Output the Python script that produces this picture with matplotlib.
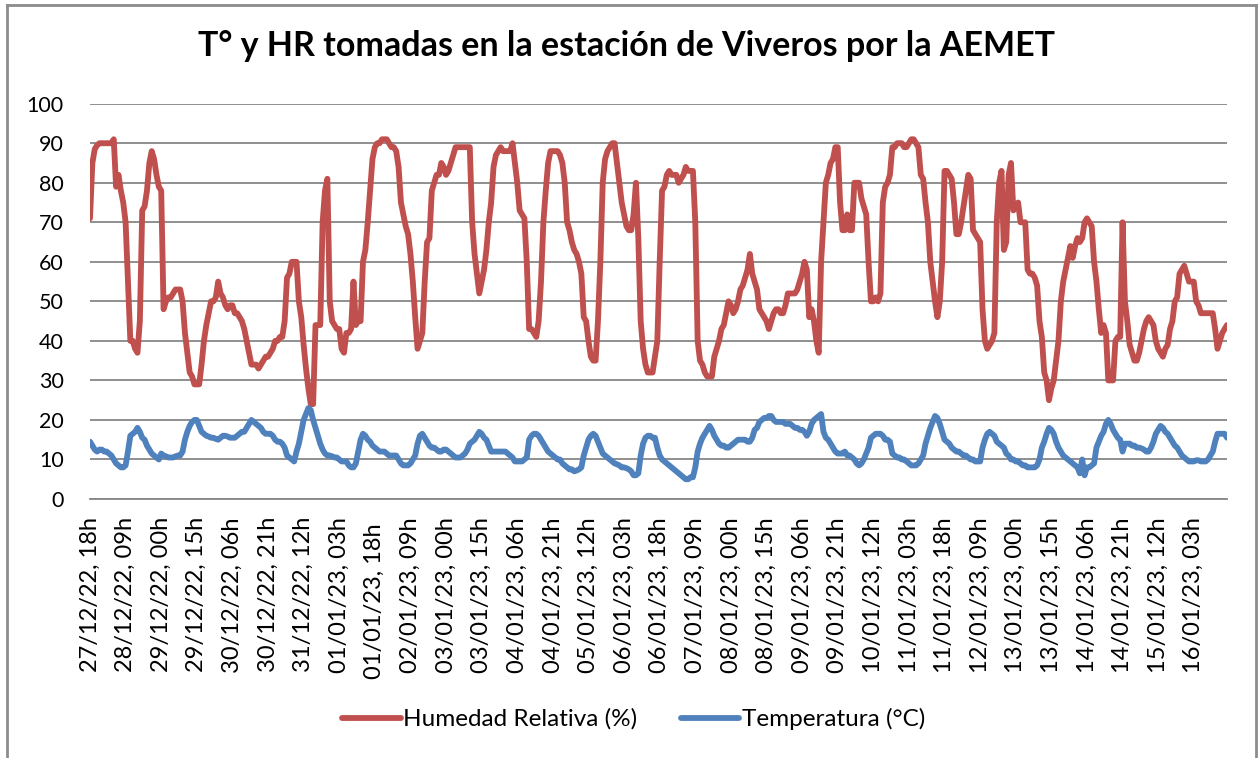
import matplotlib
matplotlib.use("Agg")
import matplotlib.pyplot as plt
from matplotlib.lines import Line2D

# ---------------- data (hourly, 27/12/22 18h -> 16/01/23 17h) ----------------
humedad = [
    71, 85, 88.5, 89.5, 90, 90, 90, 90, 90, 90, 91, 79, 82, 78, 75,
    70, 55, 40, 40, 38, 37, 45, 73, 74, 78, 85, 88, 86, 82, 79,
    78, 48, 50, 51, 51, 52, 53, 53, 53, 50, 42, 37, 32, 31, 29,
    29, 29, 34, 40, 44, 47, 50, 50, 51, 55, 52, 51, 49, 48, 49,
    49, 47, 47, 46, 45, 43, 40, 37, 34, 34, 34, 33, 34, 35, 36,
    36, 37, 38, 40, 40, 41, 41, 45, 56, 57, 60, 60, 60, 50, 46,
    39, 33, 28, 24, 24, 44, 44, 44, 70, 78, 81, 50, 45, 44, 43,
    43, 38, 37, 42, 42, 43, 55, 44, 45, 45, 60, 63, 70, 78, 86,
    89, 90, 90, 91, 91, 91, 90, 89, 89, 88, 84, 75, 72, 69, 67,
    62, 55, 46, 38, 40, 42, 55, 65, 66, 78, 80, 82, 82, 85, 84,
    82, 83, 85, 87, 89, 89, 89, 89, 89, 89, 89, 70, 62, 57, 52,
    55, 58, 63, 70, 75, 84, 87, 88, 89, 88, 88, 88, 88, 90, 85,
    80, 73, 72, 71, 60, 43, 43, 42, 41, 45, 55, 70, 78, 85, 88,
    88, 88, 88, 87, 85, 80, 70, 68, 65, 63, 62, 60, 57, 46, 45,
    40, 36, 35, 35, 45, 60, 80, 86, 88, 89, 90, 90, 85, 80, 75,
    72, 69, 68, 68, 72, 80, 66, 45, 38, 34, 32, 32, 32, 36, 40,
    60, 78, 79, 82, 83, 82, 82, 82, 80, 81, 82, 84, 83, 83, 83,
    70, 40, 35, 34, 32, 31, 31, 31, 36, 38, 40, 43, 44, 47, 50,
    49, 47, 48, 50, 53, 54, 56, 58, 62, 57, 55, 53, 48, 47, 46,
    45, 43, 45, 47, 48, 48, 47, 47, 49, 52, 52, 52, 52, 53, 55,
    57, 60, 58, 46, 48, 45, 40, 37, 60, 70, 80, 82, 85, 86, 89,
    89, 75, 68, 68, 72, 68, 68, 80, 80, 80, 76, 74, 72, 60, 50,
    50, 51, 50, 52, 75, 79, 80, 82, 89, 89, 90, 90, 90, 89, 89,
    90, 91, 91, 90, 89, 82, 81, 75, 70, 60, 55, 50, 46, 50, 60,
    83, 83, 82, 81, 75, 67, 67, 70, 74, 78, 82, 81, 68, 67, 66,
    65, 48, 40, 38, 39, 40, 42, 70, 80, 83, 63, 65, 82, 85, 73,
    74, 75, 70, 70, 70, 58, 57, 57, 56, 54, 45, 41, 32, 30, 25,
    28, 30, 35, 40, 50, 55, 58, 61, 64, 61, 64, 66, 65, 66, 70,
    71, 70, 69, 60, 55, 48, 42, 44, 42, 30, 30, 30, 40, 41, 41,
    70, 50, 45, 39, 37, 35, 35, 37, 40, 43, 45, 46, 45, 44, 40,
    38, 37, 36, 38, 39, 43, 45, 50, 51, 57, 58, 59, 57, 55, 55,
    55, 50, 49, 47, 47, 47, 47, 47, 47, 43, 38, 40, 42, 43, 44,
]

temperatura = [
    14.5, 13.5, 12.5, 12, 12.5, 12.5, 12, 12, 11.5, 11, 10, 9, 8.5, 8, 8,
    8.5, 12, 16, 16.5, 17, 18, 17, 15.5, 15, 13.5, 12.5, 11.5, 11, 10.5, 10,
    11.5, 11, 10.8, 10.5, 10.5, 10.5, 10.8, 11, 11, 12, 15, 17, 18.5, 19.5, 20,
    20, 18.5, 17, 16.5, 16, 15.8, 15.5, 15.5, 15.2, 15, 15.5, 16, 16, 15.8, 15.5,
    15.5, 15.5, 16, 16.5, 17, 17, 18, 19, 20, 19.5, 19, 18.5, 18, 17, 16.5,
    16.5, 16.5, 16, 15, 14.5, 14.5, 14, 13, 11, 10.5, 10, 9.5, 12, 14, 17,
    20, 21.5, 23, 22.5, 20, 18, 16, 14, 12.5, 11.5, 11, 11, 10.8, 10.5, 10.5,
    10, 9.5, 9.5, 9.5, 8.5, 8, 8, 9, 12, 15, 16.5, 16, 15, 14.5, 13.5,
    13, 12.5, 12, 12, 12, 11.5, 11, 11, 11, 11, 10, 9, 8.5, 8.5, 8.5,
    9, 10, 11, 14, 16, 16.5, 15.5, 14.5, 13.5, 13, 13, 12.5, 12, 12, 12.5,
    12.5, 12, 11.5, 11, 10.5, 10.5, 10.5, 11, 11.5, 12.5, 14, 14.5, 15, 16, 17,
    16.5, 15.5, 15, 13.5, 12, 12, 12, 12, 12, 12, 12, 11.5, 11, 10.5, 9.5,
    9.5, 9.5, 9.5, 10, 10.5, 15, 16, 16.5, 16.5, 16, 15, 14, 13, 12, 11.5,
    11, 10.5, 10, 10, 9, 8.5, 8, 7.5, 7.5, 7, 7.2, 7.5, 8, 11, 13,
    15, 16, 16.5, 16, 14.5, 13, 11.5, 11, 10.5, 10, 9.5, 9, 8.8, 8.5, 8,
    8, 7.8, 7.5, 7, 6, 6, 6.5, 11, 14, 15.5, 16, 16, 15.5, 15.5, 13,
    11, 10, 9.5, 9, 8.5, 8, 7.5, 7, 6.5, 6, 5.5, 5, 5, 5.5, 5.5,
    8, 12, 14, 15.5, 16.5, 17.5, 18.5, 17.5, 16, 15, 14, 13.5, 13.5, 13, 13,
    13.5, 14, 14.5, 15, 15, 15, 15, 14.5, 14.5, 15.5, 17.5, 18, 19.5, 20, 20.5,
    20.5, 21, 21, 20, 19.5, 19.5, 19.5, 19.5, 19, 19, 19, 18.5, 18, 18, 17.5,
    17.5, 17, 16, 17, 19, 20, 20.5, 21, 21.5, 17, 15.5, 15, 14, 13, 12,
    11.5, 11.5, 11.5, 12, 11, 11, 10.5, 10, 9, 8.5, 9, 10, 11.5, 13, 15.5,
    16, 16.5, 16.5, 16.5, 16, 15, 15, 14.5, 11.5, 11, 10.5, 10.5, 10, 10, 9.5,
    9, 8.5, 8.5, 8.5, 9, 10, 11, 14, 16, 18, 19.5, 21, 20.5, 19, 17,
    15, 14.5, 14, 13, 12.5, 12, 12, 11.5, 11, 11, 10.5, 10, 10, 9.5, 9.5,
    9.5, 13, 15, 16.5, 17, 16.5, 16, 14.5, 14, 13.5, 13, 11.5, 11, 10, 10,
    9.5, 9.5, 9, 8.5, 8.5, 8, 8, 8, 8, 8.5, 10, 13, 14.5, 16.5, 18,
    17.5, 16.5, 14.5, 13, 12, 11, 10.5, 10, 9.5, 9, 8.5, 8, 6.5, 10, 6,
    8, 8, 8.5, 9, 13, 14.5, 16, 17, 19, 20, 19, 17.5, 16.5, 15.5, 15,
    12, 14, 14, 14, 13.5, 13.5, 13, 13, 12.8, 12.5, 12, 12, 13, 14.5, 16.5,
    17.5, 18.5, 18, 17, 16.5, 15.5, 14.5, 13.5, 13, 12, 11, 10.5, 10, 9.5, 9.5,
    9.5, 9.8, 9.8, 9.5, 9.5, 9.5, 10, 11, 12, 14.5, 16.5, 16.5, 16.5, 16.5, 15.5,
]

tick_labels = [
    "27/12/22, 18h", "28/12/22, 09h", "29/12/22, 00h", "29/12/22, 15h",
    "30/12/22, 06h", "30/12/22, 21h", "31/12/22, 12h", "01/01/23, 03h",
    "01/01/23, 18h ", "02/01/23, 09h", "03/01/23, 00h", "03/01/23, 15h",
    "04/01/23, 06h", "04/01/23, 21h", "05/01/23, 12h", "06/01/23, 03h",
    "06/01/23, 18h", "07/01/23, 09h", "08/01/23, 00h", "08/01/23, 15h",
    "09/01/23, 06h", "09/01/23, 21h", "10/01/23, 12h", "11/01/23, 03h",
    "11/01/23, 18h", "12/01/23, 09h", "13/01/23, 00h", "13/01/23, 15h",
    "14/01/23, 06h", "14/01/23, 21h", "15/01/23, 12h", "16/01/23, 03h",
]
tick_step = 15  # hours between labelled categories

title = "T° y HR tomadas en la estación de Viveros por la AEMET"
name_hr = "Humedad Relativa (%)"
name_t = "Temperatura (°C)"

# ---------------- styling ----------------
RED = "#C0504D"
BLUE = "#4F81BD"
GRID = "#878787"
FONT = ["Lato", "DejaVu Sans"]
plt.rcParams["font.family"] = FONT

W, H = 1260, 758
fig = plt.figure(figsize=(W / 100, H / 100), dpi=100)
ax = fig.add_axes([90 / W, 1 - 499 / H, (1227 - 90) / W, (499 - 103.7) / H])

x = list(range(len(humedad)))
ax.plot(x, humedad, color=RED, lw=4.2, solid_joinstyle="round",
        solid_capstyle="round", zorder=3)
ax.plot(x, temperatura, color=BLUE, lw=4.2, solid_joinstyle="round",
        solid_capstyle="round", zorder=4)

ax.set_xlim(0, len(humedad) - 1)
ax.set_ylim(0, 100)
ax.set_yticks(range(0, 101, 10))
ax.yaxis.grid(True, color=GRID, lw=1.3)
ax.set_axisbelow(True)
for s in ["left", "right", "top"]:
    ax.spines[s].set_visible(False)
ax.spines["bottom"].set_color(GRID)
ax.spines["bottom"].set_linewidth(1.3)
ax.set_xticks([i * tick_step for i in range(len(tick_labels))])
ax.set_xticklabels(tick_labels, rotation=90, fontsize=17, va="top",
                   ha="center", rotation_mode="default")
ax.tick_params(axis="x", length=0, pad=13)
ax.tick_params(axis="y", length=0, pad=19, labelsize=15.5)

fig.text(626.5 / W, 1 - 46 / H, title, ha="center", va="center",
         fontsize=24.5, fontweight="bold")

handles = [Line2D([], [], color=RED, lw=4.2, solid_capstyle="round"),
           Line2D([], [], color=BLUE, lw=4.2, solid_capstyle="round")]
fig.legend(handles, [name_hr, name_t], loc="center",
           bbox_to_anchor=(633.5 / W, 1 - 719 / H), ncol=2, frameon=False,
           fontsize=17.5, handlelength=2.4, handletextpad=0.1,
           columnspacing=1.8, borderpad=0, borderaxespad=0)

# outer chart border
fig.add_artist(Line2D([6.5 / W, 6.5 / W], [0, 1 - 5 / H], transform=fig.transFigure,
                      color="#8C8C8C", lw=2))
fig.add_artist(Line2D([1256 / W, 1256 / W], [0, 1 - 5 / H], transform=fig.transFigure,
                      color="#8C8C8C", lw=2))
fig.add_artist(Line2D([6.5 / W, 1256 / W], [1 - 5 / H, 1 - 5 / H],
                      transform=fig.transFigure, color="#8C8C8C", lw=2))

fig.savefig("out.png", dpi=100, facecolor="white")
